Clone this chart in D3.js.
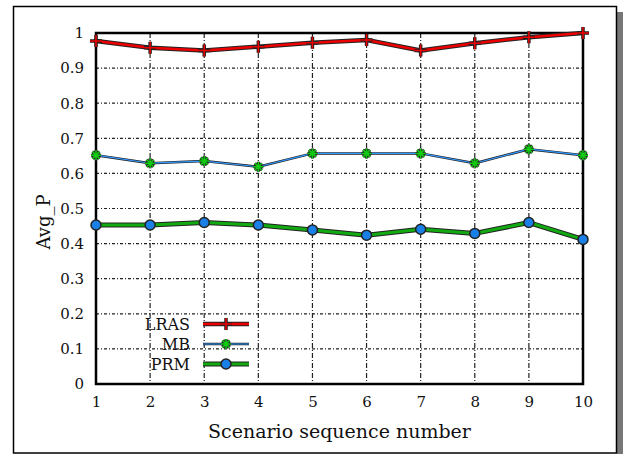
<!DOCTYPE html>
<html><head><meta charset="utf-8">
<script src="https://cdn.jsdelivr.net/npm/d3@7/dist/d3.min.js"></script>
<style>body{margin:0;background:#fff;} svg{display:block;}</style>
</head><body>
<svg id="c" width="623" height="454"></svg>
<script>
const scenarios = [1,2,3,4,5,6,7,8,9,10];
const lras = [0.977,0.958,0.950,0.961,0.972,0.980,0.950,0.971,0.988,1.000];
const mb   = [0.652,0.629,0.635,0.619,0.657,0.657,0.657,0.629,0.669,0.652];
const prm  = [0.453,0.453,0.460,0.453,0.439,0.424,0.441,0.429,0.460,0.412];
const yTicks = [0,0.1,0.2,0.3,0.4,0.5,0.6,0.7,0.8,0.9,1];
const yTickLabels = ["0","0.1","0.2","0.3","0.4","0.5","0.6","0.7","0.8","0.9","1"];
const seriesNames = ["LRAS","MB","PRM"];

const svg = d3.select("#c");
const font = "DejaVu Serif";
// outer frame with shadow
svg.append("rect").attr("x",617).attr("y",12).attr("width",6).attr("height",442).attr("fill","#777");
svg.append("rect").attr("x",13.5).attr("y",6.5).attr("width",603).attr("height",446.5)
  .attr("fill","#fff").attr("stroke","#000").attr("stroke-width",1.5);

const L=96,R=583,T=33,B=384;
const x = d3.scaleLinear().domain([1,10]).range([L,R]);
const y = d3.scaleLinear().domain([0,1]).range([B,T]);

// grid
const g = svg.append("g");
g.selectAll("line.h").data(yTicks.filter(v=>v>0&&v<1)).join("line")
  .attr("x1",L).attr("x2",R).attr("y1",d=>y(d)).attr("y2",d=>y(d))
  .attr("stroke","#222").attr("stroke-width",1.2).attr("stroke-dasharray","3,2,1,2");
g.selectAll("line.v").data(scenarios.filter(v=>v>1&&v<10)).join("line")
  .attr("y1",T).attr("y2",B).attr("x1",d=>x(d)).attr("x2",d=>x(d))
  .attr("stroke","#222").attr("stroke-width",1.2).attr("stroke-dasharray","5,2,1,2");

// axes
const xAxis = d3.axisBottom(x).tickValues(scenarios).tickSize(0).tickPadding(12).tickFormat(d3.format("d"));
const yAxis = d3.axisLeft(y).tickValues(yTicks).tickSize(0).tickPadding(12).tickFormat((d,i)=>yTickLabels[i]);
const ax = svg.append("g").attr("transform",`translate(0,${B})`).call(xAxis);
const ay = svg.append("g").attr("transform",`translate(${L},0)`).call(yAxis);
[ax,ay].forEach(a=>{a.select(".domain").remove(); a.selectAll("text").attr("font-family",font).attr("font-size",15).attr("fill","#111");});
// box
svg.append("rect").attr("x",L).attr("y",T).attr("width",R-L).attr("height",B-T)
  .attr("fill","none").attr("stroke","#000").attr("stroke-width",2.5);

const line = d3.line().x((d,i)=>x(scenarios[i])).y(d=>y(d));
function drawLine(data, color, w, under){
  svg.append("path").datum(data).attr("d",line).attr("fill","none").attr("stroke","#222").attr("stroke-width",w+under).attr("stroke-linejoin","round");
  svg.append("path").datum(data).attr("d",line).attr("fill","none").attr("stroke",color).attr("stroke-width",w).attr("stroke-linejoin","round");
}
function plus(sel, cx, cy){
  sel.append("path").attr("d",`M${cx-6},${cy}H${cx+6}M${cx},${cy-6}V${cy+6}`).attr("stroke","#222").attr("stroke-width",3.5);
  sel.append("path").attr("d",`M${cx-6},${cy}H${cx+6}M${cx},${cy-6}V${cy+6}`).attr("stroke","#e00").attr("stroke-width",1.5);
}
function star(sel, cx, cy){
  const s=5, p=`M${cx-s},${cy}H${cx+s}M${cx},${cy-s}V${cy+s}M${cx-s*0.7},${cy-s*0.7}L${cx+s*0.7},${cy+s*0.7}M${cx-s*0.7},${cy+s*0.7}L${cx+s*0.7},${cy-s*0.7}`;
  sel.append("path").attr("d",p).attr("stroke","#222").attr("stroke-width",3);
  sel.append("path").attr("d",p).attr("stroke","#1c1").attr("stroke-width",1.5);
}
function circ(sel, cx, cy){
  sel.append("circle").attr("cx",cx).attr("cy",cy).attr("r",5).attr("fill","#1a7fe6").attr("stroke","#222").attr("stroke-width",1.5);
}

drawLine(lras,"#e00",2.5,2);
drawLine(mb,"#3399ff",1.2,1.3);
drawLine(prm,"#1a1",3,2);
const mk = svg.append("g");
lras.forEach((v,i)=>plus(mk,x(scenarios[i]),y(v)));
mb.forEach((v,i)=>star(mk,x(scenarios[i]),y(v)));
prm.forEach((v,i)=>circ(mk,x(scenarios[i]),y(v)));

// legend
const lg = svg.append("g");
const legY=[324,344,364], lx1=203, lx2=249;
const styles=[["#e00",2.5,2,plus],["#3399ff",1.2,1.3,star],["#1a1",3,2,circ]];
seriesNames.forEach((n,i)=>{
  const [c,w,u,m]=styles[i];
  lg.append("text").attr("x",190).attr("y",legY[i]).attr("dy","0.35em").attr("text-anchor","end")
    .attr("font-family",font).attr("font-size",16).attr("fill","#111").text(n);
  lg.append("line").attr("x1",lx1).attr("x2",lx2).attr("y1",legY[i]).attr("y2",legY[i]).attr("stroke","#222").attr("stroke-width",w+u);
  lg.append("line").attr("x1",lx1).attr("x2",lx2).attr("y1",legY[i]).attr("y2",legY[i]).attr("stroke",c).attr("stroke-width",w);
  m(lg,(lx1+lx2)/2,legY[i]);
});

// axis labels
svg.append("text").attr("x",(L+R)/2).attr("y",431).attr("dy","0.35em").attr("text-anchor","middle")
  .attr("font-family",font).attr("font-size",19).attr("fill","#111").text("Scenario sequence number");
svg.append("text").attr("transform","translate(44,222) rotate(-90)").attr("dy","0.35em").attr("text-anchor","middle")
  .attr("font-family",font).attr("font-size",18).attr("fill","#111").text("Avg_P");
</script>
</body></html>
